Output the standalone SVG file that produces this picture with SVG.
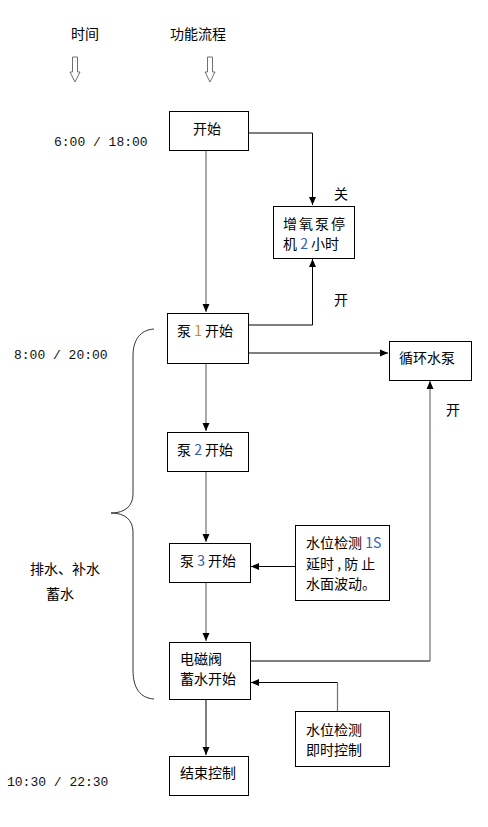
<svg xmlns="http://www.w3.org/2000/svg" width="488" height="827" viewBox="0 0 488 827">
<defs>
<style>
.box{fill:#fff;stroke:#000;stroke-width:1}
.t{font-family:"Noto Sans CJK SC","Liberation Sans",sans-serif;font-size:14px;fill:#000}
.m{font-family:"Liberation Mono",monospace;font-size:13px;fill:#111}
.ln{fill:none;stroke:#000;stroke-width:1}
.lg{fill:none;stroke:#707070;stroke-width:1.2}
.n1{fill:#c8901a}
.nb{fill:#2f62b8}
</style>
<marker id="ah" markerWidth="10" markerHeight="10" refX="9" refY="5" orient="auto" markerUnits="userSpaceOnUse">
<path d="M1,1.5 L9,5 L1,8.5 Z" fill="#000"/>
</marker>
</defs>
<rect width="488" height="827" fill="#fff"/>

<g id="headers">
<text class="t" x="85" y="39" text-anchor="middle" font-size="15">时间</text>
<text class="t" x="198" y="39" text-anchor="middle" font-size="16">功能流程</text>
<path d="M72.5,57 L77.5,57 L77.5,72 L80,72 L75,82 L70,72 L72.5,72 Z" fill="#fff" stroke="#707070" stroke-width="1"/>
<path d="M207.5,57 L212.5,57 L212.5,72 L215,72 L210,82 L205,72 L207.5,72 Z" fill="#fff" stroke="#707070" stroke-width="1"/>
</g>

<g id="times">
<text class="m" x="54" y="146">6:00 / 18:00</text>
<text class="m" x="14" y="359">8:00 / 20:00</text>
<text class="m" x="7" y="786">10:30 / 22:30</text>
</g>

<g id="brace">
<path d="M154,329 C140,330 133,340 133,356 L133,494 C133,506 125,513 111,513 C125,513 133,520 133,532 L133,670 C133,688 140,698 154,699" fill="none" stroke="#333" stroke-width="1"/>
<text class="t" x="30" y="574" font-size="16">排水、补水</text>
<text class="t" x="46" y="599" font-size="16">蓄水</text>
</g>

<g id="connectors">
<line class="lg" x1="206" y1="150" x2="206" y2="312" marker-end="url(#ah)"/>
<polyline class="ln" points="248,133 312.5,133 312.5,205" marker-end="url(#ah)"/>
<polyline class="ln" points="248,325 312.5,325 312.5,259" marker-end="url(#ah)"/>
<line class="ln" x1="248" y1="353" x2="388" y2="353" marker-end="url(#ah)"/>
<line class="lg" x1="206" y1="363" x2="206" y2="431" marker-end="url(#ah)"/>
<line class="lg" x1="206" y1="471" x2="206" y2="542" marker-end="url(#ah)"/>
<line class="lg" x1="206" y1="582" x2="206" y2="641" marker-end="url(#ah)"/>
<line class="ln" x1="206" y1="699" x2="206" y2="755" marker-end="url(#ah)"/>
<polyline class="ln" points="250,661 430,661" />
<line class="lg" x1="430" y1="661" x2="430" y2="381" marker-end="url(#ah)"/>
<line class="ln" x1="295" y1="566.5" x2="251" y2="566.5" marker-end="url(#ah)"/>
<polyline class="lg" points="337.5,711 337.5,682.5" />
<line class="ln" x1="337.5" y1="682.5" x2="251" y2="682.5" marker-end="url(#ah)"/>
<text class="t" x="334" y="199" font-size="15">关</text>
<text class="t" x="334" y="305" font-size="15">开</text>
<text class="t" x="446" y="415" font-size="15">开</text>
</g>

<g id="start">
<rect class="box" x="169.5" y="111.5" width="79" height="39"/>
<text class="t" x="207" y="134" text-anchor="middle">开始</text>
</g>

<g id="aerator">
<rect class="box" x="273.5" y="206.5" width="81" height="52"/>
<text class="t" x="283" y="229" letter-spacing="2">增氧泵停</text>
<text class="t" x="283" y="249">机 <tspan class="nb">2</tspan> 小时</text>
</g>

<g id="pump1">
<rect class="box" x="167.5" y="313.5" width="81" height="50"/>
<text class="t" x="177" y="336">泵 <tspan class="n1">1</tspan> 开始</text>
</g>

<g id="circ">
<rect class="box" x="389.5" y="341.5" width="82" height="39"/>
<text class="t" x="399" y="363">循环水泵</text>
</g>

<g id="pump2">
<rect class="box" x="167.5" y="432.5" width="81" height="39"/>
<text class="t" x="177" y="455">泵 <tspan class="nb">2</tspan> 开始</text>
</g>

<g id="pump3">
<rect class="box" x="169.5" y="543.5" width="81" height="39"/>
<text class="t" x="180" y="566">泵 <tspan class="nb">3</tspan> 开始</text>
</g>

<g id="level1">
<rect class="box" x="295.5" y="525.5" width="94" height="75"/>
<text class="t" x="306" y="548">水位检测 <tspan class="nb">1S</tspan></text>
<text class="t" x="306" y="569">延时 , 防 止</text>
<text class="t" x="306" y="589">水面波动。</text>
</g>

<g id="valve">
<rect class="box" x="169.5" y="642.5" width="81" height="57"/>
<text class="t" x="180" y="664">电磁阀</text>
<text class="t" x="180" y="684">蓄水开始</text>
</g>

<g id="level2">
<rect class="box" x="295.5" y="711.5" width="94" height="55"/>
<text class="t" x="306" y="735">水位检测</text>
<text class="t" x="306" y="755">即时控制</text>
</g>

<g id="end">
<rect class="box" x="169.5" y="756.5" width="79" height="39"/>
<text class="t" x="180" y="778">结束控制</text>
</g>
</svg>
